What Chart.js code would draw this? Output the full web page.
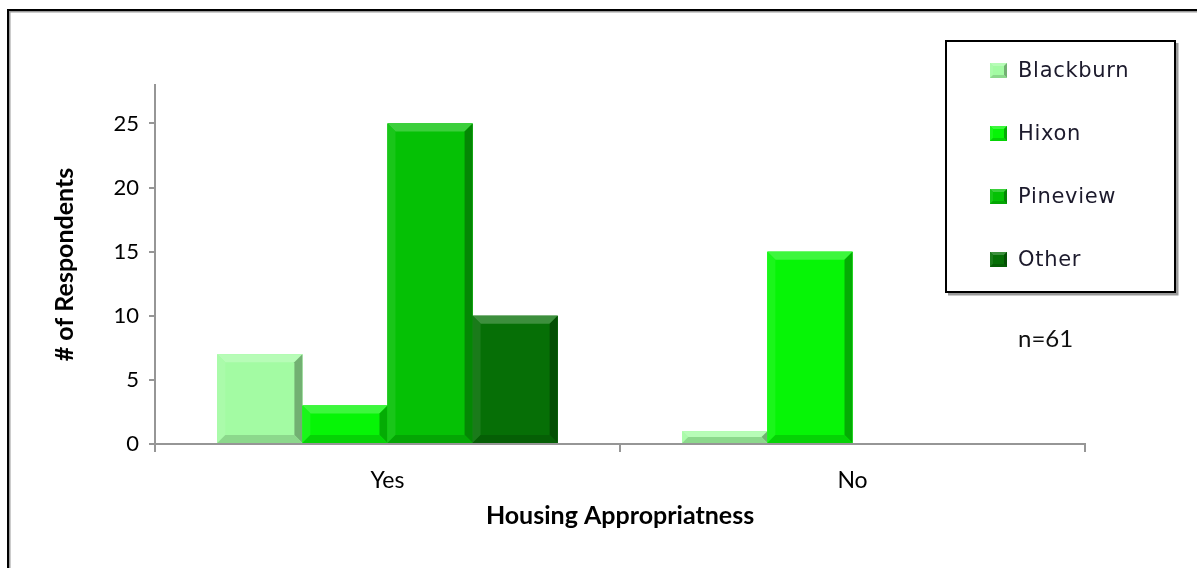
<!DOCTYPE html>
<html lang="en">
<head>
  <meta charset="UTF-8" />
  <title>Housing Appropriatness</title>
  <script src="https://cdn.jsdelivr.net/npm/chart.js"></script>
  <style>
    html, body { margin: 0; padding: 0; background: #fff; }
    #wrap { position: relative; width: 1197px; height: 568px; }
  </style>
</head>
<body>
  <div id="wrap"><canvas id="housingChart" width="1197" height="568"></canvas></div>

  <script>
    // Survey answers per location
    const categories = ['Yes', 'No'];
    const seriesNames = ['Blackburn', 'Hixon', 'Pineview', 'Other'];
    const blackburn = [7, 1];
    const hixon = [3, 15];
    const pineview = [25, 0];
    const other = [10, 0];
    const yTicks = [0, 5, 10, 15, 20, 25];
    const sampleNote = 'n=61';

    const seriesValues = [blackburn, hixon, pineview, other];
    const colors = ['#a3fba3', '#06f506', '#05c105', '#066f06'];

    // mix a hex colour toward white (amt > 0) or black (amt < 0)
    function shade(hex, amt) {
      const n = parseInt(hex.slice(1), 16);
      const t = amt < 0 ? 0 : 255, p = Math.abs(amt);
      const mix = c => Math.round(c + (t - c) * p);
      return `rgb(${mix(n >> 16)},${mix((n >> 8) & 255)},${mix(n & 255)})`;
    }

    function poly(ctx, pts, color) {
      ctx.beginPath();
      ctx.moveTo(pts[0][0], pts[0][1]);
      for (let i = 1; i < pts.length; i++) ctx.lineTo(pts[i][0], pts[i][1]);
      ctx.closePath();
      ctx.fillStyle = color;
      ctx.fill();
    }

    // bevelled block like the old office 3D bar style
    function bevel(ctx, x0, y0, x1, y1, color, size) {
      const d = Math.min(size, (y1 - y0) / 2, (x1 - x0) / 2);
      ctx.fillStyle = color;
      ctx.fillRect(x0, y0, x1 - x0, y1 - y0);
      poly(ctx, [[x0, y0], [x1, y0], [x1 - d, y0 + d], [x0 + d, y0 + d]], shade(color, 0.22));
      poly(ctx, [[x0, y0], [x0 + d, y0 + d], [x0 + d, y1 - d], [x0, y1]], shade(color, 0.08));
      poly(ctx, [[x1, y0], [x1, y1], [x1 - d, y1 - d], [x1 - d, y0 + d]], shade(color, -0.3));
      poly(ctx, [[x0, y1], [x0 + d, y1 - d], [x1 - d, y1 - d], [x1, y1]], shade(color, -0.14));
    }

    const bevelBars = {
      id: 'bevelBars',
      afterDatasetsDraw(chart) {
        const ctx = chart.ctx;
        ctx.save();
        chart.data.datasets.forEach((ds, i) => {
          chart.getDatasetMeta(i).data.forEach(bar => {
            const { x, y, base, width } = bar.getProps(['x', 'y', 'base', 'width'], true);
            if (Math.abs(base - y) < 1) return;
            bevel(ctx, x - width / 2, Math.min(y, base), x + width / 2, Math.max(y, base), ds.backgroundColor, 8);
          });
        });
        ctx.restore();
      }
    };

    // page frame, boxed legend and the sample size note
    const decorations = {
      id: 'decorations',
      beforeDraw(chart) {
        const ctx = chart.ctx;
        ctx.save();
        ctx.fillStyle = '#fff';
        ctx.fillRect(0, 0, chart.width, chart.height);
        ctx.fillStyle = '#9a9a9a';
        ctx.fillRect(9, 11, chart.width, 1.5);
        ctx.fillRect(9, 11, 1.5, chart.height);
        ctx.fillStyle = '#000';
        ctx.fillRect(7, 9, chart.width, 2);
        ctx.fillRect(7, 9, 2, chart.height);
        ctx.restore();
      },
      afterDraw(chart) {
        const ctx = chart.ctx;
        ctx.save();
        const bx = 946, by = 41, bw = 229, bh = 251;
        ctx.fillStyle = '#9a9a9a';
        ctx.fillRect(bx + 2, by + 2, bw + 1.5, bh + 1.5);
        ctx.fillStyle = '#fff';
        ctx.fillRect(bx, by, bw, bh);
        ctx.strokeStyle = '#000';
        ctx.lineWidth = 2;
        ctx.strokeRect(bx, by, bw, bh);

        ctx.font = '21px "DejaVu Sans"';
        ctx.letterSpacing = '0.7px';
        ctx.textBaseline = 'middle';
        ctx.textAlign = 'left';
        chart.data.datasets.forEach((ds, i) => {
          const cy = 71 + i * 63;
          bevel(ctx, 990, cy - 8, 1007, cy + 7, ds.backgroundColor, 3);
          ctx.fillStyle = '#1c1a2c';
          ctx.fillText(ds.label, 1018, cy + 1);
        });

        ctx.letterSpacing = '0px';
        ctx.font = '24px Lato';
        ctx.fillStyle = '#111';
        ctx.textBaseline = 'alphabetic';
        ctx.fillText(sampleNote, 1018, 347);
        ctx.restore();
      }
    };

    const datasets = seriesNames.map((name, i) => ({
      label: name,
      data: seriesValues[i],
      backgroundColor: colors[i],
      borderWidth: 0,
      categoryPercentage: 0.732,
      barPercentage: 1.0
    }));

    new Chart(document.getElementById('housingChart'), {
      type: 'bar',
      data: { labels: categories, datasets },
      options: {
        responsive: false,
        animation: false,
        layout: { padding: { top: 85, right: 112, left: 0, bottom: 0 } },
        plugins: {
          legend: { display: false },
          tooltip: { enabled: false }
        },
        scales: {
          x: {
            grid: { drawOnChartArea: false, drawTicks: true, tickLength: 8, color: '#969696', lineWidth: 2 },
            border: { color: '#969696', width: 2 },
            ticks: { color: '#000', font: { family: 'Lato', size: 23 }, padding: 15 },
            title: {
              display: true,
              text: 'Housing Appropriatness',
              color: '#000',
              font: { family: 'Lato', size: 25, weight: 'bold' },
              padding: { top: 0, bottom: 37 }
            },
            afterFit(scale) { scale.height = 124; }
          },
          y: {
            min: 0,
            max: 28,
            grid: { drawOnChartArea: false, drawTicks: true, tickLength: 6, color: '#969696', lineWidth: 2 },
            border: { color: '#969696', width: 2 },
            ticks: { color: '#000', font: { family: 'Lato', size: 22 }, padding: 10 },
            title: {
              display: true,
              text: '# of Respondents',
              color: '#000',
              font: { family: 'Lato', size: 25, weight: 'bold' },
              padding: { top: 50, bottom: 0 }
            },
            afterBuildTicks(scale) { scale.ticks = yTicks.map(v => ({ value: v })); },
            afterFit(scale) { scale.width = 155; }
          }
        }
      },
      plugins: [decorations, bevelBars]
    });
  </script>
</body>
</html>
